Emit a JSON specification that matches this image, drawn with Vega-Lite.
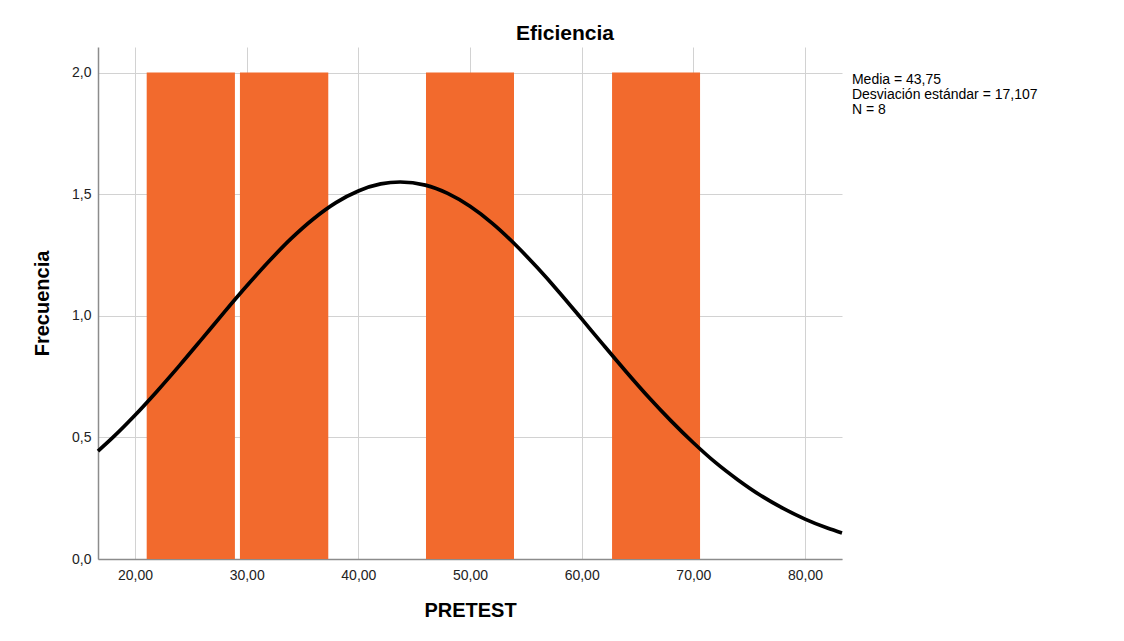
{
  "$schema": "https://vega.github.io/schema/vega-lite/v6.json",
  "width": 744,
  "height": 512,
  "autosize": {"type": "none"},
  "padding": {"left": 98, "top": 47, "right": 282, "bottom": 82},
  "background": "white",
  "config": {
    "locale": {"number": {"decimal": ",", "thousands": ".", "grouping": [3], "currency": ["", " €"]}},
    "font": "Liberation Sans",
    "view": {"stroke": null},
    "axis": {
      "labelFont": "Liberation Sans",
      "labelFontSize": 14,
      "labelColor": "#222222",
      "titleFont": "Liberation Sans",
      "titleFontSize": 20,
      "titleFontWeight": "bold",
      "titleColor": "#000000",
      "ticks": false,
      "domainColor": "#8c8c8c",
      "domainWidth": 1.5,
      "gridColor": "#d2d2d2",
      "gridWidth": 1
    }
  },
  "title": {
    "text": "Eficiencia",
    "font": "Liberation Sans",
    "fontSize": 21,
    "fontWeight": "bold",
    "color": "#000000",
    "anchor": "middle",
    "dx": 95,
    "offset": 3
  },
  "datasets": {
    "bars": [
      {"start": 21.05, "end": 28.95, "count": 2},
      {"start": 29.40, "end": 37.31, "count": 2},
      {"start": 46.06, "end": 53.94, "count": 2},
      {"start": 62.72, "end": 70.60, "count": 2}
    ],
    "curve": [
      {"x": 16.69, "y": 0.444},
      {"x": 18, "y": 0.499},
      {"x": 20, "y": 0.591},
      {"x": 22, "y": 0.691},
      {"x": 24, "y": 0.796},
      {"x": 26, "y": 0.905},
      {"x": 28, "y": 1.015},
      {"x": 30, "y": 1.122},
      {"x": 32, "y": 1.224},
      {"x": 34, "y": 1.318},
      {"x": 36, "y": 1.399},
      {"x": 38, "y": 1.465},
      {"x": 40, "y": 1.513},
      {"x": 42, "y": 1.542},
      {"x": 43.75, "y": 1.550},
      {"x": 46, "y": 1.537},
      {"x": 48, "y": 1.503},
      {"x": 50, "y": 1.450},
      {"x": 52, "y": 1.380},
      {"x": 54, "y": 1.295},
      {"x": 56, "y": 1.199},
      {"x": 58, "y": 1.096},
      {"x": 60, "y": 0.987},
      {"x": 62, "y": 0.877},
      {"x": 64, "y": 0.769},
      {"x": 66, "y": 0.665},
      {"x": 68, "y": 0.568},
      {"x": 70, "y": 0.478},
      {"x": 72, "y": 0.396},
      {"x": 74, "y": 0.325},
      {"x": 76, "y": 0.262},
      {"x": 78, "y": 0.209},
      {"x": 80, "y": 0.164},
      {"x": 82, "y": 0.127},
      {"x": 83.31, "y": 0.107}
    ],
    "stats": [
      {"label": "Media = 43,75\nDesviación estándar = 17,107\nN = 8", "px": 84.2, "py": 1.998}
    ]
  },
  "layer": [
    {
      "data": {"name": "bars"},
      "mark": {"type": "rect", "color": "#f26a2d"},
      "encoding": {
        "x": {
          "field": "start",
          "type": "quantitative",
          "scale": {"domain": [16.69, 83.31], "nice": false, "zero": false},
          "axis": {
            "title": "PRETEST",
            "values": [20, 30, 40, 50, 60, 70, 80],
            "format": ".2f",
            "labelPadding": 9,
            "titlePadding": 18
          }
        },
        "x2": {"field": "end"},
        "y": {
          "field": "count",
          "type": "quantitative",
          "scale": {"domain": [0, 2.105], "nice": false},
          "axis": {
            "title": "Frecuencia",
            "values": [0, 0.5, 1, 1.5, 2],
            "format": ".1f",
            "labelPadding": 7,
            "titlePadding": 19
          }
        },
        "y2": {"datum": 0}
      }
    },
    {
      "data": {"name": "curve"},
      "mark": {"type": "line", "color": "#000000", "strokeWidth": 3.7, "interpolate": "monotone"},
      "encoding": {
        "x": {"field": "x", "type": "quantitative"},
        "y": {"field": "y", "type": "quantitative"}
      }
    },
    {
      "data": {"name": "stats"},
      "mark": {"type": "text", "align": "left", "baseline": "top", "fontSize": 14, "lineBreak": "\n", "lineHeight": 15, "color": "#000000", "font": "Liberation Sans"},
      "encoding": {
        "x": {"field": "px", "type": "quantitative"},
        "y": {"field": "py", "type": "quantitative"},
        "text": {"field": "label"}
      }
    }
  ]
}
